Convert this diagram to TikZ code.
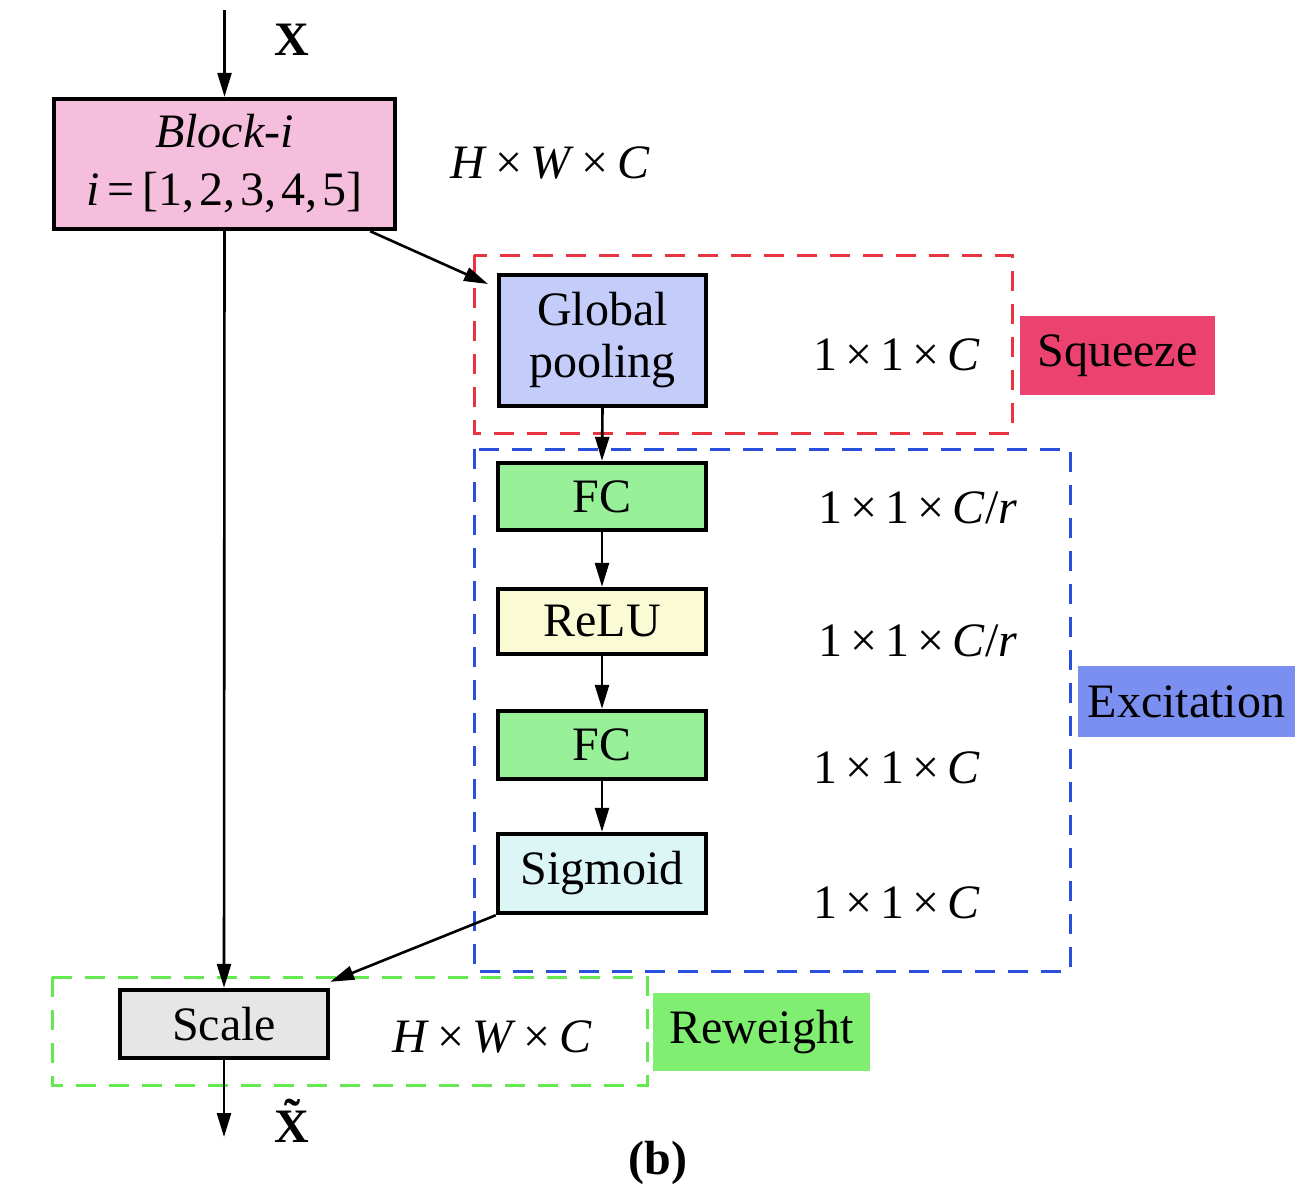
\documentclass[tikz,border=0pt]{standalone}
\usepackage{fontspec}
\setmainfont{Liberation Serif}
\usetikzlibrary{arrows.meta,calc}

\definecolor{blockpink}{RGB}{245,190,220}
\definecolor{poolblue}{RGB}{196,204,250}
\definecolor{fcgreen}{RGB}{152,240,152}
\definecolor{reluyellow}{RGB}{250,250,212}
\definecolor{sigcyan}{RGB}{220,246,246}
\definecolor{scalegray}{RGB}{230,230,230}
\definecolor{squeezefill}{RGB}{236,66,112}
\definecolor{excitefill}{RGB}{122,143,240}
\definecolor{reweightfill}{RGB}{128,238,112}
\definecolor{dashred}{RGB}{232,52,64}
\definecolor{dashblue}{RGB}{40,80,220}
\definecolor{dashgreen}{RGB}{100,232,80}

\newcommand{\by}{\,×\,}
\newcommand{\cm}{,\kern2.5pt}

\begin{document}
\begin{tikzpicture}[x=0.5pt,y=-0.5pt,
  font=\fontsize{24pt}{27pt}\selectfont,
  opbox/.style={draw=black,line width=2.2pt,minimum width=104pt,inner sep=0pt,align=center},
  tagbox/.style={inner sep=0pt,align=center},
  arr/.style={-{Triangle[length=12pt,width=7pt]},line width=1.3pt},
  grp/.style={dashed,dash pattern=on 10pt off 6.5pt,line width=1.5pt},
  dimlabel/.style={inner sep=0pt}]
\useasboundingbox (0,0) rectangle (1295,1190);

% processing blocks
\node[opbox,fill=blockpink,minimum width=170.5pt,minimum height=65pt] (blk) at (224.5,164)
  {\textit{Block-i}\\[2pt]\textit{i}\,=\,[1\cm2\cm3\cm4\cm5]};
\node[opbox,fill=poolblue,minimum width=103.5pt,minimum height=65.5pt] (gp) at (602.5,340.5)
  {Global\\[-1pt]pooling};
\node[opbox,fill=fcgreen,minimum height=33.5pt] (fc1) at (602,496.5) {FC};
\node[opbox,fill=reluyellow,minimum height=32.5pt] (relu) at (602,621.5) {ReLU};
\node[opbox,fill=fcgreen,minimum height=34pt] (fc2) at (602,745) {FC};
\node[opbox,fill=sigcyan,minimum height=39.5pt] (sig) at (602,873.5) {Sigmoid};
\node[opbox,fill=scalegray,minimum height=34pt] (scale) at (224,1024) {Scale};

% stage groups
\draw[grp,draw=dashred] (474,255) rectangle (1012,433);
\draw[grp,draw=dashblue] (474,449) rectangle (1070,971);
\draw[grp,draw=dashgreen] (52,977) rectangle (647,1085);

% stage tags
\node[tagbox,fill=squeezefill,minimum width=97.5pt,minimum height=39.5pt] (sq) at (1117.5,355.5) {Squeeze};
\node[tagbox,fill=excitefill,minimum width=108.5pt,minimum height=35.5pt] (ex) at (1186.5,701.5) {Excitation};
\node[tagbox,fill=reweightfill,minimum width=108.5pt,minimum height=39pt] (rw) at (761.5,1032) {Reweight};

% tensor shapes
\node[dimlabel] (d0) at (550,163) {\textit{H}\by\textit{W}\by\textit{C}};
\node[dimlabel] (d1) at (897,355) {1\by1\by\textit{C}};
\node[dimlabel] (d2) at (918,508) {1\by1\by\textit{C}/\textit{r}};
\node[dimlabel] (d3) at (918,641) {1\by1\by\textit{C}/\textit{r}};
\node[dimlabel] (d4) at (897,768) {1\by1\by\textit{C}};
\node[dimlabel] (d5) at (897,903) {1\by1\by\textit{C}};
\node[dimlabel] (d6) at (492,1037) {\textit{H}\by\textit{W}\by\textit{C}};

% input, output and caption
\node (xin) at (292,40) {\textbf{X}};
\node (xout) at (292,1127) {\textbf{\ooalign{X\cr\hidewidth\raisebox{5pt}{˜}\hidewidth\cr}}};
\node (cap) at (658,1163) {\textbf{(b)}};

\coordinate (inStart) at (224.5,10);
\coordinate (outEnd) at (224,1137);
\coordinate (gpIn) at (488,284);

% connectors
\draw[arr] (inStart) -- (blk.north);
\draw[arr] ([xshift=-13.5pt]blk.south east) -- (gpIn);
\draw[arr] (gp.south) -- (fc1.north);
\draw[arr] (fc1.south) -- (relu.north);
\draw[arr] (relu.south) -- (fc2.north);
\draw[arr] (fc2.south) -- (sig.north);
\draw[arr] (blk.south) -- (scale.north);
\draw[arr] (sig.south west) -- ([yshift=3pt]scale.north east);
\draw[arr] (scale.south) -- (outEnd);
\end{tikzpicture}
\end{document}
